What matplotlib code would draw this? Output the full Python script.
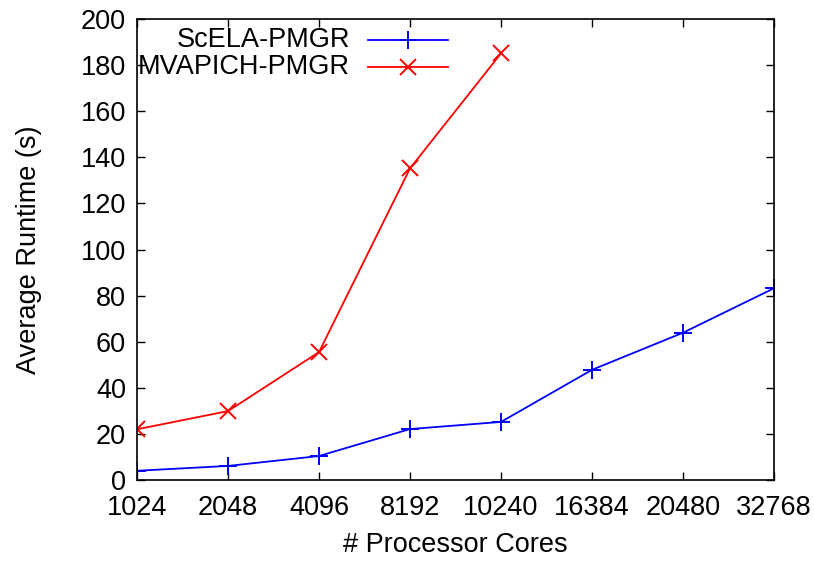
import matplotlib.pyplot as plt
import numpy as np

plt.rcParams['font.family'] = ['Liberation Sans', 'DejaVu Sans']

cores = ['1024', '2048', '4096', '8192', '10240', '16384', '20480', '32768']
scela = [4.0, 6.1, 10.4, 22.1, 25.2, 47.8, 63.9, 83.2]
mvapich = [22.0, 29.9, 55.5, 135.2, 185.1]

fs = 19.5

fig = plt.figure(figsize=(8.14, 5.61), dpi=100)
ax = fig.add_axes([0.1683, 0.1444, 0.9509 - 0.1683, 0.9661 - 0.1444])

x = np.arange(len(cores))
ax.plot(x, scela, color='#0000ff', lw=1.3, marker='+', ms=13, mew=1.4)
ax.plot(x[:len(mvapich)], mvapich, color='#ff0000', lw=1.3, marker='x', ms=11, mew=1.4)

ax.set_xlim(0, len(cores) - 1)
ax.set_ylim(0, 200)
ax.set_xticks(x)
ax.set_xticklabels(cores)
ax.set_yticks(np.arange(0, 201, 20))
ax.tick_params(direction='in', length=6, width=1, labelsize=fs,
               top=True, right=True)
ax.tick_params(axis='x', pad=11)
ax.tick_params(axis='y', pad=8)
for s in ax.spines.values():
    s.set_linewidth(1.2)

ax.set_xlabel('# Processor Cores', fontsize=fs, labelpad=8)
ax.set_ylabel('Average Runtime (s)', fontsize=fs, labelpad=28)

# gnuplot-style key: text right aligned, sample after it
key = [('ScELA-PMGR', '#0000ff', '+', 13), ('MVAPICH-PMGR', '#ff0000', 'x', 11)]
for i, (name, col, mk, ms) in enumerate(key):
    yy = 0.954 - i * 0.058
    ax.text(0.334, yy, name, transform=ax.transAxes, ha='right', va='center', fontsize=fs)
    ax.plot([0.3626, 0.488], [yy, yy], transform=ax.transAxes, color=col, lw=1.3)
    ax.plot([0.4254], [yy], transform=ax.transAxes, color=col, marker=mk, ms=ms, mew=1.4)

fig.savefig('out.png', dpi=100)
